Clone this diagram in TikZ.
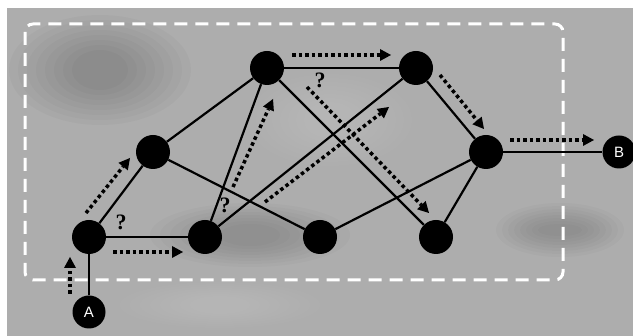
\documentclass[tikz,border=0pt]{standalone}
\usepackage{fontspec}
\setmainfont{Liberation Serif}
\setsansfont{Liberation Sans}
\usetikzlibrary{arrows.meta}
\begin{document}
\begin{tikzpicture}[x=1pt,y=-1pt,
  dot/.style={circle,fill=black,minimum size=34pt,inner sep=0pt},
  term/.style={circle,fill=black,minimum size=33pt,inner sep=0pt,text=white,font=\sffamily\fontsize{15}{15}\selectfont},
  edge/.style={line width=2.2pt,black},
  flow/.style={line width=3.5pt,black,dash pattern=on 3.5pt off 3pt,-{Triangle[length=11pt,width=12pt,line width=0pt]},shorten >=0pt},
  qmark/.style={font=\bfseries\fontsize{22}{22}\selectfont,inner sep=0pt},
  region/.style={white,line width=3pt,dash pattern=on 13pt off 8pt,rounded corners=8pt}]
\useasboundingbox (0,0) rectangle (633,336);
\fill[white] (0,0) rectangle (633,336);
\fill[black!32] (7,8) rectangle (633,336);
\foreach \k in {1,...,8} {
  \fill[black,opacity=0.025] (100,70) ellipse ({100-9*\k} and {60-5*\k});
  \fill[black,opacity=0.02] (250,235) ellipse ({110-10*\k} and {35-3*\k});
  \fill[black,opacity=0.02] (560,230) ellipse ({70-6*\k} and {30-3*\k});
  \fill[white,opacity=0.02] (330,120) ellipse ({90-8*\k} and {50-4*\k});
  \fill[white,opacity=0.02] (220,305) ellipse ({110-10*\k} and {25-2*\k});
}
\draw[region] (25,24) rectangle (563,280);

\node[dot] (n1) at (89,237) {};
\node[dot] (n2) at (205,237) {};
\node[dot] (n3) at (153,152) {};
\node[dot] (n4) at (267,68) {};
\node[dot] (n5) at (416,68) {};
\node[dot] (n6) at (486,152) {};
\node[dot] (n7) at (320,237) {};
\node[dot] (n8) at (436,237) {};
\node[term] (a) at (89,312) {A};
\node[term] (b) at (619,152) {B};

\draw[edge] (a) -- (n1);
\draw[edge] (n1) -- (n2);
\draw[edge] (n1) -- (n3);
\draw[edge] (n3) -- (n4);
\draw[edge] (n3) -- (n7);
\draw[edge] (n2) -- (n4);
\draw[edge] (n2) -- (n5);
\draw[edge] (n4) -- (n5);
\draw[edge] (n4) -- (n8);
\draw[edge] (n5) -- (n6);
\draw[edge] (n6) -- (n7);
\draw[edge] (n6) -- (n8);
\draw[edge] (n6) -- (b);

\coordinate (f1s) at (70,294); \coordinate (f1e) at (70,257);
\coordinate (f2s) at (86,213); \coordinate (f2e) at (130,158);
\coordinate (f3s) at (113,252); \coordinate (f3e) at (183,252);
\coordinate (f4s) at (233,187); \coordinate (f4e) at (273,99);
\coordinate (f5s) at (265,202); \coordinate (f5e) at (389,107);
\coordinate (f6s) at (292,55); \coordinate (f6e) at (391,55);
\coordinate (f7s) at (307,87); \coordinate (f7e) at (429,213);
\coordinate (f8s) at (440,75); \coordinate (f8e) at (484,129);
\coordinate (f9s) at (510,140); \coordinate (f9e) at (594,140);
\foreach \i in {1,...,9} \draw[flow] (f\i s) -- (f\i e);

\node[qmark] (q1) at (121,222) {?};
\node[qmark] (q2) at (225,205) {?};
\node[qmark] (q3) at (320,80) {?};
\end{tikzpicture}
\end{document}
